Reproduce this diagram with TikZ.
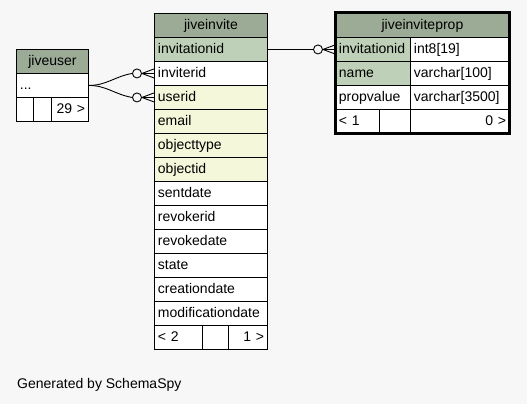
\documentclass[tikz,border=0pt]{standalone}
\usepackage{fontspec}
\setmainfont{Liberation Sans}
\usetikzlibrary{calc}
\definecolor{bg}{HTML}{F7F7F7}
\definecolor{hdr}{HTML}{9BAB96}
\definecolor{pk}{HTML}{BED1B8}
\definecolor{idx}{HTML}{F4F7DA}
\begin{document}
\begin{tikzpicture}[x=1pt,y=-1pt,
  cell/.style={draw=black, line width=0.9pt, anchor=north west, minimum height=24pt,
    inner xsep=3.5pt, inner ysep=0pt, text height=10.5pt, text depth=3pt,
    font=\fontsize{14}{16}\selectfont, fill=white, align=left},
  hd/.style={cell, fill=hdr, align=center},
  circ/.style={circle, draw=black, line width=0.9pt, fill=bg, minimum size=9pt, inner sep=0pt},
  conn/.style={draw=black, line width=0.9pt},
  note/.style={font=\fontsize{14}{16}\selectfont, anchor=base west, inner sep=0pt}]
\fill[bg] (0,0) rectangle (527,404);
\useasboundingbox (0,0) rectangle (527,404);

% jiveuser
\node[hd, text width=65pt] (ju-h) at (16,49) {jiveuser};
\node[cell, text width=65pt] (ju-r) at (16,73) {...};
\node[cell, text width=10pt] (ju-f1) at (16,97) {};
\node[cell, text width=11pt] (ju-f2) at (33,97) {};
\node[cell, text width=30pt, align=right] (ju-f3) at (51,97) {29 >};

% jiveinvite
\node[hd, text width=106pt] (ji-h) at (154,13) {jiveinvite};
\node[cell, text width=106pt, fill=pk] (ji-invitationid) at (154,37) {invitationid};
\node[cell, text width=106pt] (ji-inviterid) at (154,61) {inviterid};
\node[cell, text width=106pt, fill=idx] (ji-userid) at (154,85) {userid};
\node[cell, text width=106pt, fill=idx] (ji-email) at (154,109) {email};
\node[cell, text width=106pt, fill=idx] (ji-objecttype) at (154,133) {objecttype};
\node[cell, text width=106pt, fill=idx] (ji-objectid) at (154,157) {objectid};
\node[cell, text width=106pt] (ji-sentdate) at (154,181) {sentdate};
\node[cell, text width=106pt] (ji-revokerid) at (154,205) {revokerid};
\node[cell, text width=106pt] (ji-revokedate) at (154,229) {revokedate};
\node[cell, text width=106pt] (ji-state) at (154,253) {state};
\node[cell, text width=106pt] (ji-creationdate) at (154,277) {creationdate};
\node[cell, text width=106pt] (ji-modificationdate) at (154,301) {modificationdate};
\node[cell, text width=41pt] (ji-f1) at (154,325) {< 2};
\node[cell, text width=19pt] (ji-f2) at (202,325) {};
\node[cell, text width=32pt, align=right] (ji-f3) at (228,325) {1 >};

% jiveinviteprop
\node[hd, text width=167pt] (pr-h) at (335,13) {jiveinviteprop};
\node[cell, text width=68pt, fill=pk] (pr-invitationid) at (335,37) {invitationid};
\node[cell, text width=92pt] (pr-invitationid-t) at (410,37) {int8[19]};
\node[cell, text width=68pt, fill=pk] (pr-name) at (335,61) {name};
\node[cell, text width=92pt] (pr-name-t) at (410,61) {varchar[100]};
\node[cell, text width=68pt] (pr-propvalue) at (335,85) {propvalue};
\node[cell, text width=92pt] (pr-propvalue-t) at (410,85) {varchar[3500]};
\node[cell, text width=37pt] (pr-f1) at (335,109) {< 1};
\node[cell, text width=24pt] (pr-f2) at (379,109) {};
\node[cell, text width=92pt, align=right] (pr-f3) at (410,109) {0 >};
\draw[line width=3pt] (pr-h.north west) rectangle (pr-f3.south east);

% connectors
\node[circ] (c1) at ($(ji-inviterid.west)+(-17,0)$) {};
\node[circ] (c2) at ($(ji-userid.west)+(-17,0)$) {};
\node[circ] (c3) at ($(pr-invitationid.west)+(-17,0)$) {};
\draw[conn] (ju-r.east) to[out=0,in=190] (c1.west);
\draw[conn] (ju-r.east) to[out=0,in=170] (c2.west);
\draw[conn] (ji-invitationid.east) -- (c3.west);
\foreach \c/\t in {c1/ji-inviterid, c2/ji-userid, c3/pr-invitationid} {
  \draw[conn] (\c.east) -- ($(\t.west)+(0,-4.5)$);
  \draw[conn] (\c.east) -- (\t.west);
  \draw[conn] (\c.east) -- ($(\t.west)+(0,4.5)$);
}

\node[note] (gen) at (17,388) {Generated by SchemaSpy};
\end{tikzpicture}
\end{document}
